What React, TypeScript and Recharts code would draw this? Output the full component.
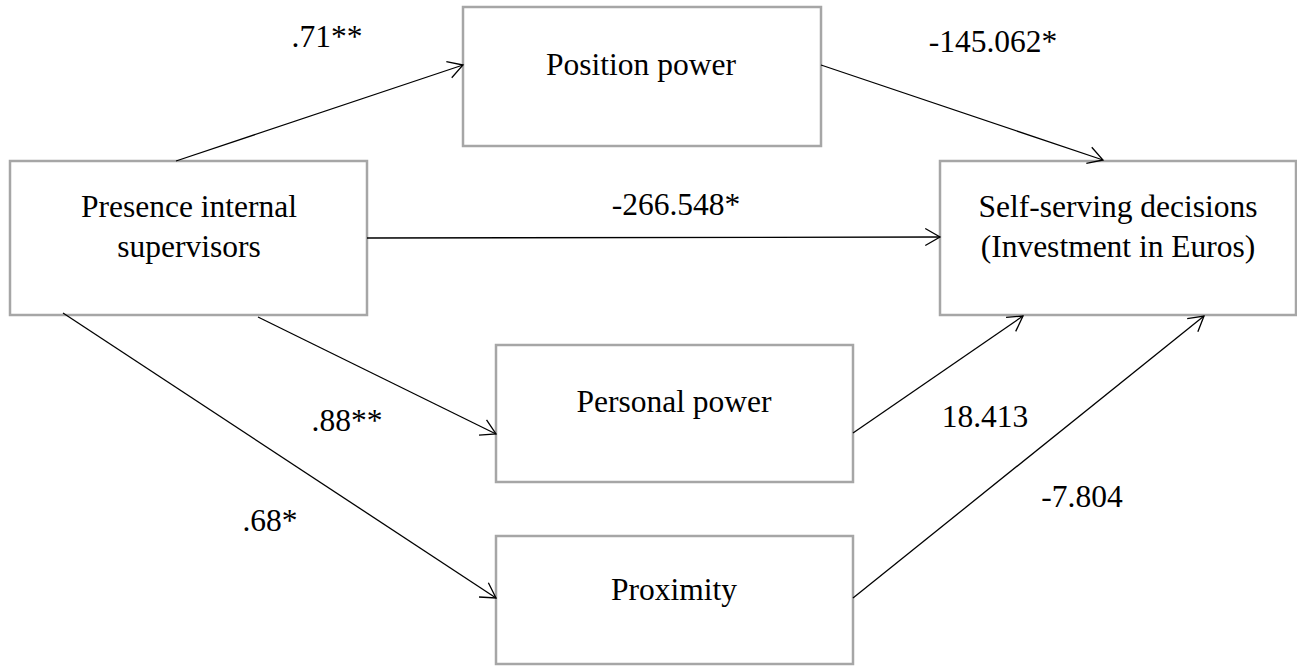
import { ScatterChart, Scatter, XAxis, YAxis, ReferenceArea, ReferenceLine } from 'recharts';

const W = 1297;
const H = 666;

// nodes of the path model
const nodeLabels = [
  ['Position power'],
  ['Presence internal', 'supervisors'],
  ['Self-serving decisions', '(Investment in Euros)'],
  ['Personal power'],
  ['Proximity'],
];
const nodeLeft = [463, 10, 940, 496, 496];
const nodeRight = [821, 367, 1296, 853, 853];
const nodeTop = [7, 161, 161, 345, 536];
const nodeBottom = [146, 315, 315, 482, 664];
const nodeTextX = [641, 189, 1118, 674, 674];
const nodeTextY = [75, 217, 217, 412, 600];

// paths (arrows) and their coefficients
const pathCoefficients = ['.71**', '-145.062*', '-266.548*', '.88**', '18.413', '.68*', '-7.804'];
const pathFromX = [176, 821, 367, 258, 63, 853, 853];
const pathFromY = [161, 65, 238, 317, 313, 433, 598];
const pathToX = [463, 1103, 940, 496, 496, 1023, 1204];
const pathToY = [65, 160, 237, 434, 598, 316, 316];
const coefX = [327, 993, 676, 347, 985, 270, 1082];
const coefY = [47, 52, 215, 431, 427, 531, 507];

const FONT = '"Liberation Serif", "Times New Roman", serif';

const coefData = pathCoefficients.map((t, i) => ({ x: coefX[i], y: coefY[i], text: t }));
const nodeData = nodeLabels.map((lines, i) => ({ x: nodeTextX[i], y: nodeTextY[i], lines }));

const Arrow = (props: any) => {
  const { x1, y1, x2, y2 } = props;
  const a = Math.atan2(y1 - y2, x1 - x2);
  const len = 17;
  const spread = Math.PI / 6;
  const w1x = x2 + len * Math.cos(a - spread);
  const w1y = y2 + len * Math.sin(a - spread);
  const w2x = x2 + len * Math.cos(a + spread);
  const w2y = y2 + len * Math.sin(a + spread);
  return (
    <g>
      <line x1={x1} y1={y1} x2={x2} y2={y2} stroke="#000" strokeWidth={1.3} />
      <polyline
        points={`${w1x},${w1y} ${x2},${y2} ${w2x},${w2y}`}
        fill="none"
        stroke="#000"
        strokeWidth={1.3}
      />
    </g>
  );
};

const CoefText = (props: any) => (
  <text x={props.cx} y={props.cy} textAnchor="middle" fontFamily={FONT} fontSize={31.5} fill="#000">
    {props.payload.text}
  </text>
);

const NodeText = (props: any) => (
  <text x={props.cx} y={props.cy} textAnchor="middle" fontFamily={FONT} fontSize={31.5} fill="#000">
    {props.payload.lines.map((l: string, i: number) => (
      <tspan key={i} x={props.cx} dy={i === 0 ? 0 : 40}>
        {l}
      </tspan>
    ))}
  </text>
);

export default function App() {
  return (
    <div style={{ position: 'absolute', left: 0, top: 0, width: W, height: H, background: '#fff' }}>
      <ScatterChart width={W} height={H} margin={{ top: 0, right: 0, bottom: 0, left: 0 }}>
        <XAxis type="number" dataKey="x" domain={[0, W]} hide allowDataOverflow />
        <YAxis type="number" dataKey="y" domain={[0, H]} hide reversed allowDataOverflow />
        {nodeLabels.map((_, i) => (
          <ReferenceArea
            key={`box-${i}`}
            x1={nodeLeft[i]}
            x2={nodeRight[i]}
            y1={nodeTop[i]}
            y2={nodeBottom[i]}
            fill="#fff"
            fillOpacity={1}
            stroke="#a6a6a6"
            strokeWidth={2.5}
            ifOverflow="visible"
          />
        ))}
        {pathCoefficients.map((_, i) => (
          <ReferenceLine
            key={`path-${i}`}
            segment={[
              { x: pathFromX[i], y: pathFromY[i] },
              { x: pathToX[i], y: pathToY[i] },
            ]}
            shape={Arrow}
            ifOverflow="visible"
          />
        ))}
        <Scatter data={nodeData} shape={NodeText} isAnimationActive={false} />
        <Scatter data={coefData} shape={CoefText} isAnimationActive={false} />
      </ScatterChart>
    </div>
  );
}
